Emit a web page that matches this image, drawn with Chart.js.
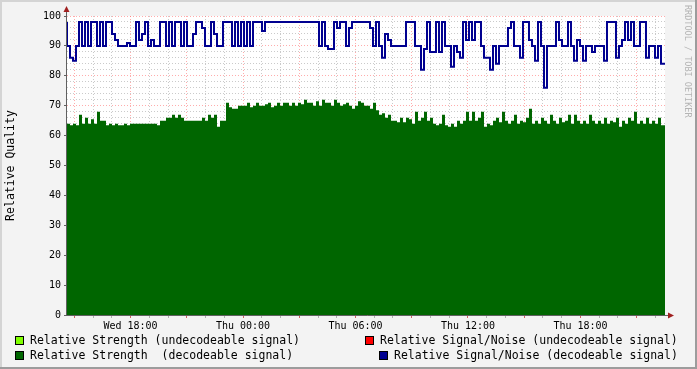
<!DOCTYPE html>
<html lang="en">
<head>
<meta charset="UTF-8" />
<title>Relative Quality</title>
<script src="https://cdn.jsdelivr.net/npm/chart.js"></script>
<style>
  html, body { margin: 0; padding: 0; background: #f3f3f3; }
  #wrap { width: 697px; height: 369px; }
</style>
</head>
<body>
<div id="wrap"><canvas id="qualityChart" width="697" height="369"></canvas></div>
<script>
// one sample every 0.16 h (~9.6 min), hours counted from Wed 00:00
const startHour = 14.613;
const stepHour = 0.16;
const endHour = 46.507;

// Relative Strength (decodeable signal)
const strengthDecodeable = [
  67, 64, 63.5, 64, 63.5, 67, 64, 66, 64, 65.5,
  64, 68, 65, 65, 63.5, 64, 63.5, 64, 63.5, 63.5,
  64, 63.5, 64, 64, 64, 64, 64, 64, 64, 64,
  64, 63.5, 65, 65, 66, 66, 67, 66, 67, 66,
  65, 65, 65, 65, 65, 65, 66, 65, 67, 66,
  67, 63, 65, 65, 71, 69.5, 69, 69, 70, 70,
  70, 71, 69.5, 70, 71, 70, 70, 70.5, 71, 69.5,
  70, 71, 70, 71, 71, 70, 71, 70, 71, 70.5,
  72, 71, 71, 70, 71.5, 70, 72, 71, 71, 70,
  72, 71, 70, 70.5, 71, 70, 69, 70, 71.5, 71,
  70, 70, 69, 71, 68.5, 67, 67.5, 66, 67, 65,
  65, 64.5, 66, 64.5, 66, 65.5, 64, 68, 65, 66,
  68, 65, 66, 64, 63.5, 64, 67, 63.5, 63, 64,
  63, 65, 64, 65, 68, 65, 68, 65, 66, 68,
  63, 64, 63.5, 65, 66, 64.5, 68, 65, 64, 65,
  67, 64, 65, 64.5, 66, 69, 64, 65, 64, 66,
  65, 64, 67, 65, 64, 66, 64.5, 65, 67, 64,
  67, 65, 64, 65, 64, 67, 65, 64, 65, 64,
  66, 64, 65, 64.5, 66, 63, 65, 64, 66, 65,
  68, 64, 65, 64, 66, 64, 65, 64, 66, 63.5
];

// Relative Signal/Noise (decodeable signal)
const snrDecodeable = [
  98, 90, 86, 85, 90, 98, 90, 98, 90, 98,
  98, 90, 98, 90, 98, 98, 94, 92, 90, 90,
  90, 91, 90, 90, 98, 92, 94, 98, 90, 92,
  90, 90, 98, 98, 90, 98, 90, 98, 98, 90,
  98, 90, 90, 94, 98, 98, 96, 90, 90, 98,
  94, 90, 90, 98, 98, 98, 90, 98, 90, 98,
  90, 98, 90, 98, 98, 98, 95, 98, 98, 98,
  98, 98, 98, 98, 98, 98, 98, 98, 98, 98,
  98, 98, 98, 98, 98, 90, 98, 90, 89, 89,
  98, 96, 98, 98, 90, 96, 98, 98, 98, 98,
  98, 98, 96, 90, 98, 90, 86, 94, 92, 90,
  90, 90, 90, 90, 98, 98, 98, 90, 90, 82,
  89, 98, 88, 88, 98, 88, 98, 90, 90, 83,
  90, 88, 86, 98, 92, 98, 92, 98, 98, 90,
  86, 86, 82, 90, 84, 90, 90, 90, 96, 98,
  90, 90, 86, 98, 98, 92, 90, 85, 98, 90,
  76, 90, 90, 90, 98, 92, 90, 90, 98, 90,
  85, 92, 90, 85, 90, 90, 88, 90, 90, 90,
  85, 98, 98, 98, 86, 90, 92, 98, 92, 98,
  90, 90, 98, 98, 86, 90, 90, 86, 90, 84
];

const xTickHours = [18, 24, 30, 36, 42];
const xTickLabels = ["Wed 18:00", "Thu 00:00", "Thu 06:00", "Thu 12:00", "Thu 18:00"];
const yTickValues = [0, 10, 20, 30, 40, 50, 60, 70, 80, 90, 100];

const legendLabels = [
  "Relative Strength (undecodeable signal)",
  "Relative Strength  (decodeable signal)",
  "Relative Signal/Noise (undecodeable signal)",
  "Relative Signal/Noise (decodeable signal)"
];
const legendColors = ["#80ff00", "#006600", "#ff0000", "#000090"];

const MONO = "'DejaVu Sans Mono', monospace";

// rrd step: each value holds until the next sample, close the last one
function toPoints(values) {
  const pts = values.map((v, i) => ({ x: startHour + i * stepHour, y: v }));
  pts.push({ x: startHour + values.length * stepHour, y: values[values.length - 1] });
  return pts;
}

const minorGrid = "rgba(150,150,150,0.5)";
const majorGrid = "rgba(255,90,90,0.5)";

// background, frame, axes arrows, legend, side text
const rrdFrame = {
  id: "rrdFrame",
  beforeDraw(chart) {
    const { ctx, chartArea: a, width, height } = chart;
    ctx.save();
    ctx.fillStyle = "#f3f3f3";
    ctx.fillRect(0, 0, width, height);
    ctx.fillStyle = "#ffffff";
    ctx.fillRect(a.left, a.top, a.right - a.left, a.bottom - a.top);
    ctx.restore();
  },
  afterDraw(chart) {
    const { ctx, chartArea: a, width, height } = chart;
    ctx.save();

    // frame
    ctx.fillStyle = "#d4d4d4";
    ctx.fillRect(0, 0, width, 2);
    ctx.fillRect(0, 0, 2, height);
    ctx.fillStyle = "#9c9c9c";
    ctx.fillRect(0, height - 2, width, 2);
    ctx.fillRect(width - 2, 0, 2, height);

    // axes
    const ax = a.left - 0.5, ay = a.bottom + 0.5;
    ctx.strokeStyle = "#606060";
    ctx.lineWidth = 1;
    ctx.beginPath();
    ctx.moveTo(ax, ay);
    ctx.lineTo(ax, a.top - 5);
    ctx.moveTo(ax, ay);
    ctx.lineTo(a.right + 4, ay);
    ctx.stroke();
    ctx.fillStyle = "#a02020";
    ctx.beginPath();
    ctx.moveTo(ax - 3, a.top - 4);
    ctx.lineTo(ax + 3, a.top - 4);
    ctx.lineTo(ax, a.top - 10);
    ctx.closePath();
    ctx.fill();
    ctx.beginPath();
    ctx.moveTo(a.right + 3, ay - 3);
    ctx.lineTo(a.right + 3, ay + 3);
    ctx.lineTo(a.right + 9, ay);
    ctx.closePath();
    ctx.fill();

    // legend
    const boxX = [15, 15, 365, 379];
    const rowY = [340.5, 355.5];
    ctx.font = "11.5px " + MONO;
    ctx.textBaseline = "middle";
    ctx.textAlign = "left";
    legendLabels.forEach((label, i) => {
      const bx = boxX[i], by = rowY[i % 2];
      ctx.fillStyle = legendColors[i];
      ctx.fillRect(bx, by - 4.5, 9, 9);
      ctx.strokeStyle = "#000";
      ctx.strokeRect(bx + 0.5, by - 4, 8, 8);
      ctx.fillStyle = "#000";
      ctx.fillText(label, bx + 15, by + 0.5);
    });

    // watermark
    ctx.translate(687, 5);
    ctx.rotate(Math.PI / 2);
    ctx.font = "8.5px " + MONO;
    ctx.fillStyle = "#b4b4b4";
    ctx.textBaseline = "middle";
    ctx.fillText("RRDTOOL / TOBI OETIKER", 0, 0);

    ctx.restore();
  }
};

new Chart(document.getElementById("qualityChart"), {
  type: "line",
  data: {
    datasets: [
      {
        label: legendLabels[3],
        data: toPoints(snrDecodeable),
        stepped: "after",
        borderColor: "#000090",
        borderWidth: 2,
        pointRadius: 0,
        fill: false,
        order: 0
      },
      {
        label: legendLabels[1],
        data: toPoints(strengthDecodeable),
        stepped: "after",
        borderWidth: 0,
        borderColor: "#006600",
        backgroundColor: "#006600",
        pointRadius: 0,
        fill: "origin",
        order: 1
      }
    ]
  },
  options: {
    responsive: false,
    animation: false,
    layout: { padding: { left: 0, top: 16, right: 32, bottom: 34 } },
    plugins: {
      legend: { display: false },
      tooltip: { enabled: false }
    },
    scales: {
      x: {
        type: "linear",
        min: startHour,
        max: endHour,
        z: 1,
        afterFit: (s) => { s.height = 20; },
        border: { display: false, dash: [1, 2] },
        grid: {
          color: (c) => (Math.round(c.tick.value) % 3 === 0 ? majorGrid : minorGrid),
          tickColor: (c) => (Math.round(c.tick.value) % 3 === 0 ? "#d06060" : "#b0b0b0"),
          tickLength: 3
        },
        ticks: {
          stepSize: 1,
          maxTicksLimit: 100,
          includeBounds: false,
          autoSkip: false,
          maxRotation: 0,
          padding: 2,
          color: "#000",
          font: { family: MONO, size: 10 },
          callback: (v) => {
            const k = xTickHours.indexOf(Math.round(v));
            return k >= 0 ? xTickLabels[k] : "";
          }
        }
      },
      y: {
        min: 0,
        max: 100,
        z: 1,
        afterFit: (s) => { s.width = 67; },
        border: { display: false, dash: [1, 2] },
        title: {
          display: true,
          text: "Relative Quality",
          color: "#000",
          font: { family: MONO, size: 11.5 }
        },
        grid: {
          color: (c) => (yTickValues.includes(c.tick.value) ? majorGrid : minorGrid),
          tickColor: (c) => (yTickValues.includes(c.tick.value) ? "#606060" : "rgba(0,0,0,0)"),
          tickLength: 3
        },
        ticks: {
          stepSize: 2,
          maxTicksLimit: 100,
          autoSkip: false,
          padding: 3,
          color: "#000",
          font: { family: MONO, size: 10 },
          callback: (v) => (yTickValues.includes(v) ? String(v) : "")
        }
      }
    }
  },
  plugins: [rrdFrame]
});
</script>
</body>
</html>
